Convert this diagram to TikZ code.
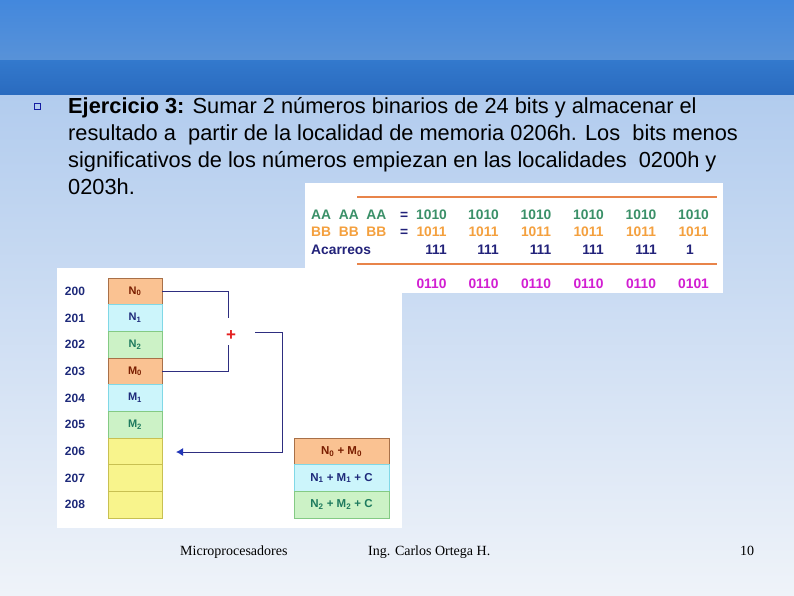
\documentclass[tikz,border=0pt]{standalone}
\usepackage{fontspec}
\setmainfont{Liberation Sans}
\newfontfamily\serifft{Liberation Serif}
\usetikzlibrary{arrows.meta}
\definecolor{bara}{HTML}{4388DD}
\definecolor{barb}{HTML}{5892D8}
\definecolor{barc}{HTML}{3379CD}
\definecolor{bard}{HTML}{2A6BBF}
\definecolor{bodytop}{HTML}{B2CCEE}
\definecolor{bodybot}{HTML}{EFF3F9}
\definecolor{tgreen}{HTML}{3A9068}
\definecolor{torange}{HTML}{F4A03E}
\definecolor{tnavy}{HTML}{22227A}
\definecolor{tmag}{HTML}{D21ED2}
\definecolor{oline}{HTML}{E8844A}
\definecolor{fillor}{HTML}{FAC292}
\definecolor{bordor}{HTML}{A87048}
\definecolor{fillcy}{HTML}{CCF5FB}
\definecolor{bordcy}{HTML}{80D8E6}
\definecolor{fillgr}{HTML}{CCF2C6}
\definecolor{bordgr}{HTML}{84CA84}
\definecolor{fillye}{HTML}{F8F48C}
\definecolor{bordye}{HTML}{C8C052}
\definecolor{cred}{HTML}{7A1E00}
\definecolor{cnavy}{HTML}{1E2A7A}
\definecolor{cteal}{HTML}{1E7A5E}
\definecolor{connc}{HTML}{2E2E80}
\definecolor{tipc}{HTML}{2236B8}
\definecolor{plusc}{HTML}{E42020}
\begin{document}
\begin{tikzpicture}[x=1pt,y=-1pt,
  bodytext/.style={anchor=base west,inner sep=0pt,font=\fontsize{21.8}{26}\selectfont},
  tab/.style={anchor=base,inner sep=0pt,font=\fontsize{13.8}{16}\selectfont\bfseries},
  tabl/.style={anchor=base west,inner sep=0pt,font=\fontsize{13.8}{16}\selectfont\bfseries},
  cell/.style={draw,line width=0.8pt,minimum width=54pt,minimum height=26.67pt,inner sep=0pt,font=\fontsize{11}{12}\selectfont\bfseries},
  rescell/.style={draw,line width=0.8pt,minimum width=95pt,minimum height=26.67pt,inner sep=0pt,font=\fontsize{11.5}{13}\selectfont\bfseries},
  addr/.style={inner sep=0pt,text=cnavy,font=\fontsize{12}{13}\selectfont\bfseries},
  conn/.style={draw=connc,line width=1pt},
  foot/.style={anchor=base west,inner sep=0pt,font=\serifft\fontsize{14}{16}\selectfont}]
\useasboundingbox (0,0) rectangle (794,595);
% background
\shade[top color=bodytop,bottom color=bodybot] (0,94) rectangle (794,595);
\shade[top color=bara,bottom color=barb] (0,0) rectangle (794,60);
\shade[top color=barc,bottom color=bard] (0,60) rectangle (794,94);
% bullet and text
\node[draw=cnavy!70!blue,line width=0.6pt,minimum size=6pt,inner sep=0pt] (bul) at (37,106) {};
\node[bodytext] (l1) at (68,113.5) {\textbf{Ejercicio 3:} Sumar 2 números binarios de 24 bits y almacenar el};
\node[bodytext] (l2) at (68,140.5) {resultado a~ partir de la localidad de memoria 0206h. Los~ bits menos};
\node[bodytext] (l3) at (68,167.5) {significativos de los números empiezan en las localidades~ 0200h y};
\node[bodytext] (l4) at (68,194.5) {0203h.};
% table image
\fill[white] (305,183) rectangle (723,293);
\draw[oline,line width=2.6pt] (357,197) -- (717,197);
\draw[oline,line width=2.6pt] (357,264) -- (717,264);
\node[tabl,text=tgreen] (ra) at (311,219.5) {AA~ AA~ AA\quad\textcolor{tnavy}{=}};
\node[tabl,text=torange] (rb) at (311,236.5) {BB~ BB~ BB\quad\textcolor{tnavy}{=}};
\node[tabl,text=tnavy] (rc) at (311,254) {Acarreos};
\foreach \x [count=\i] in {431.5,483.5,536,588.5,641,693.5}{
  \node[tab,text=tgreen] (a\i) at (\x,219.5) {1010};
  \node[tab,text=torange] (b\i) at (\x,236.5) {1011};
}
\foreach \x [count=\i] in {447,499,551.5,604,657}{
  \node[tab,anchor=base east,text=tnavy] (k\i) at (\x,254) {111};
}
\node[tab,text=tnavy] (k6) at (690,254) {1};
\foreach \x [count=\i] in {431.5,483.5,536,588.5,641}{
  \node[tab,text=tmag] (s\i) at (\x,288) {0110};
}
\node[tab,text=tmag] (s6) at (693.5,288) {0101};
% memory diagram
\fill[white] (57,268) rectangle (402,528);
\node[cell,fill=fillor,draw=bordor,text=cred] (c0) at (135,291.3) {N\textsubscript{0}};
\node[cell,fill=fillcy,draw=bordcy,text=cnavy] (c1) at (135,318) {N\textsubscript{1}};
\node[cell,fill=fillgr,draw=bordgr,text=cteal] (c2) at (135,344.7) {N\textsubscript{2}};
\node[cell,fill=fillor,draw=bordor,text=cred] (c3) at (135,371.3) {M\textsubscript{0}};
\node[cell,fill=fillcy,draw=bordcy,text=cnavy] (c4) at (135,398) {M\textsubscript{1}};
\node[cell,fill=fillgr,draw=bordgr,text=cteal] (c5) at (135,424.7) {M\textsubscript{2}};
\node[cell,fill=fillye,draw=bordye] (c6) at (135,451.3) {};
\node[cell,fill=fillye,draw=bordye] (c7) at (135,478) {};
\node[cell,fill=fillye,draw=bordye] (c8) at (135,504.7) {};
\foreach \i/\y in {0/291.3,1/318,2/344.7,3/371.3,4/398,5/424.7,6/451.3,7/478,8/504.7}{
  \node[addr] (d\i) at (75,\y) {20\i};
}
\node[rescell,fill=fillor,draw=bordor,text=cred] (r0) at (341.5,451.3) {N\textsubscript{0} + M\textsubscript{0}};
\node[rescell,fill=fillcy,draw=bordcy,text=cnavy] (r1) at (341.5,478) {N\textsubscript{1} + M\textsubscript{1} + C};
\node[rescell,fill=fillgr,draw=bordgr,text=cteal] (r2) at (341.5,504.7) {N\textsubscript{2} + M\textsubscript{2} + C};
% connectors
\coordinate (p1) at (228,318);
\coordinate (p2) at (228,345);
\coordinate (q1) at (255,332);
\coordinate (q2) at (282,452);
\coordinate (tip) at (176,452);
\node[inner sep=0pt,text=plusc,font=\fontsize{17}{18}\selectfont\bfseries] (plus) at (231,335.5) {+};
\draw[conn] (c0.east) -| (p1);
\draw[conn] (p2) |- (c3.east);
\draw[conn,-{Latex[length=7pt,width=8pt,color=tipc]}] (q1) -| (q2) -- (tip);
% footer
\node[foot] (f1) at (180,555.5) {Microprocesadores};
\node[foot] (f2) at (368,555.5) {Ing. Carlos Ortega H.};
\node[foot] (f3) at (740,555.5) {10};
\end{tikzpicture}
\end{document}
